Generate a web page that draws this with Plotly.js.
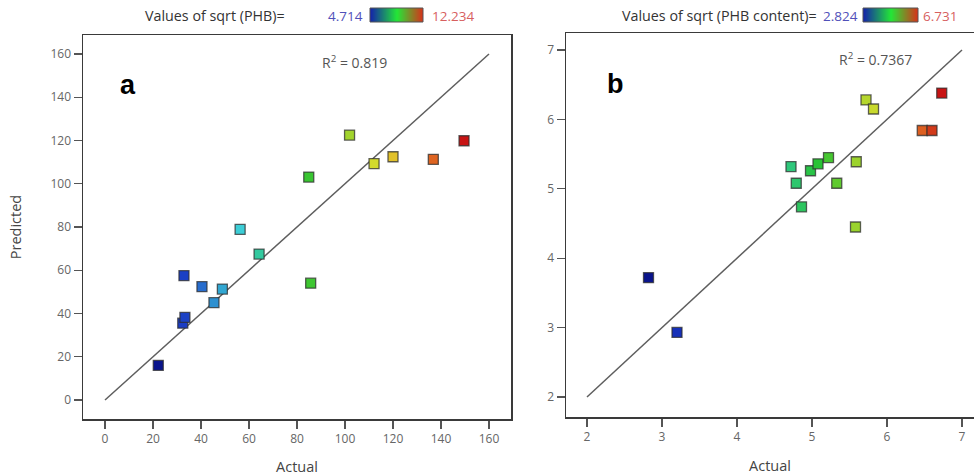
<!DOCTYPE html>
<html>
<head>
<meta charset="utf-8">
<script src="https://cdn.plot.ly/plotly-3.0.1.min.js"></script>
<style>html,body{margin:0;padding:0;background:#fff;}#chart{width:974px;height:476px;}</style>
</head>
<body>
<div id="chart"></div>
<script>
// ---- data ----
const actualA    = [22.2, 32.4, 33.3, 32.9, 40.4, 45.4, 48.9, 56.3, 64.2, 84.9, 85.7, 101.9, 112.1, 120.0, 136.8, 149.6];
const predictedA = [16.0, 35.5, 38.2, 57.5, 52.4, 45.0, 51.3, 78.9, 67.5, 103.1, 54.0, 122.5, 109.3, 112.5, 111.3, 119.9];
const actualB    = [2.82, 3.20, 4.72, 4.79, 4.86, 4.98, 5.08, 5.22, 5.33, 5.59, 5.58, 5.72, 5.82, 6.47, 6.60, 6.73];
const predictedB = [3.72, 2.93, 5.32, 5.08, 4.74, 5.26, 5.36, 5.45, 5.08, 5.39, 4.45, 6.28, 6.15, 5.84, 5.84, 6.38];
const diagA = [0, 160];
const diagB = [2, 7];
const ticksA = [0, 20, 40, 60, 80, 100, 120, 140, 160];
const ticksB = [2, 3, 4, 5, 6, 7];
const colorRangeA = [4.714, 12.234];   // sqrt(PHB)
const colorRangeB = [2.824, 6.731];    // sqrt(PHB content)
const r2A = "0.819";
const r2B = "0.7367";
const legendStops = [0, 1];

// ---- styling ----
const FONT = "Open Sans, Noto Sans, sans-serif";
const pointScale = [
  [0, 'rgb(10,20,140)'], [0.12, 'rgb(25,55,195)'], [0.22, 'rgb(40,110,205)'],
  [0.3, 'rgb(50,165,210)'], [0.37, 'rgb(60,205,215)'], [0.45, 'rgb(50,200,150)'],
  [0.58, 'rgb(40,195,50)'], [0.7, 'rgb(150,210,45)'], [0.8, 'rgb(225,220,45)'],
  [0.92, 'rgb(225,110,35)'], [1, 'rgb(200,20,20)']
];
const legendScale = [[0, 'rgb(20,35,170)'], [0.5, 'rgb(35,230,55)'], [1, 'rgb(220,45,25)']];

function markerFor(vals, range) {
  return {
    symbol: 'square', size: 10,
    color: vals, cmin: range[0], cmax: range[1], colorscale: pointScale, showscale: false,
    line: {color: 'rgba(45,45,45,0.75)', width: 1.3}
  };
}

const traces = [
  {x: diagA, y: diagA, mode: 'lines', line: {color: '#5e5e5e', width: 1.5}, xaxis: 'x', yaxis: 'y', hoverinfo: 'skip'},
  {x: actualA, y: predictedA, mode: 'markers', xaxis: 'x', yaxis: 'y',
   marker: markerFor(actualA.map(Math.sqrt), colorRangeA)},
  {x: diagB, y: diagB, mode: 'lines', line: {color: '#5e5e5e', width: 1.5}, xaxis: 'x2', yaxis: 'y2', hoverinfo: 'skip'},
  {x: actualB, y: predictedB, mode: 'markers', xaxis: 'x2', yaxis: 'y2',
   marker: markerFor(actualB, colorRangeB)},
  {type: 'heatmap', z: [legendStops, legendStops], x: legendStops, y: [0, 1], zsmooth: 'best',
   colorscale: legendScale, showscale: false, xaxis: 'x3', yaxis: 'y3', hoverinfo: 'skip'},
  {type: 'heatmap', z: [legendStops, legendStops], x: legendStops, y: [0, 1], zsmooth: 'best',
   colorscale: legendScale, showscale: false, xaxis: 'x4', yaxis: 'y4', hoverinfo: 'skip'}
];

const W = 974, H = 476;
const px = v => v / W, py = v => (H - v) / H;

const tickfont = {family: FONT, size: 12, color: '#666'};
function axisBase(extra) {
  return Object.assign({
    showgrid: false, zeroline: false, showline: true, linecolor: '#3a3a3a', linewidth: 1.5,
    ticks: 'outside', ticklen: 8, tickwidth: 1.2, tickcolor: '#555', tickfont: tickfont,
    tickmode: 'array'
  }, extra);
}
const titleFont = {family: FONT, size: 14.5, color: '#444'};

const layout = {
  width: W, height: H,
  margin: {l: 0, r: 0, t: 0, b: 0},
  paper_bgcolor: '#fff', plot_bgcolor: '#fff',
  showlegend: false,
  font: {family: FONT},
  xaxis: axisBase({domain: [px(83), px(511)], range: [-9.17, 169.17], tickvals: ticksA, anchor: 'y', mirror: true,
    title: {text: 'Actual', font: titleFont, standoff: 17}}),
  yaxis: axisBase({domain: [py(419), py(35)], range: [-8.8, 168.8], tickvals: ticksA, anchor: 'x', mirror: true,
    title: {text: 'Predicted', font: titleFont, standoff: 25}}),
  xaxis2: axisBase({domain: [px(566), 1], range: [1.72, 7.16], tickvals: ticksB, anchor: 'y2', mirror: true,
    title: {text: 'Actual', font: titleFont, standoff: 17}}),
  yaxis2: axisBase({domain: [py(417), py(33)], range: [1.712, 7.245], tickvals: ticksB, anchor: 'x2', mirror: false}),
  xaxis3: {domain: [px(370), px(423)], range: [0, 1], visible: false, anchor: 'y3', fixedrange: true},
  yaxis3: {domain: [py(22), py(8)], range: [0, 1], visible: false, anchor: 'x3', fixedrange: true},
  xaxis4: {domain: [px(863), px(918)], range: [0, 1], visible: false, anchor: 'y4', fixedrange: true},
  yaxis4: {domain: [py(22), py(8)], range: [0, 1], visible: false, anchor: 'x4', fixedrange: true},
  shapes: [
    {type: 'rect', xref: 'paper', yref: 'paper', x0: px(370), x1: px(423), y0: py(22), y1: py(8), line: {color: '#555', width: 1}},
    {type: 'rect', xref: 'paper', yref: 'paper', x0: px(863), x1: px(918), y0: py(22), y1: py(8), line: {color: '#555', width: 1}}
  ],
  annotations: [
    {xref: 'paper', yref: 'paper', x: px(287), y: py(16), xanchor: 'right', yanchor: 'middle', showarrow: false,
     text: 'Values of sqrt (PHB)=', font: {family: FONT, size: 14.3, color: '#333'}},
    {xref: 'paper', yref: 'paper', x: px(326), y: py(16), xanchor: 'left', yanchor: 'middle', showarrow: false,
     text: String(colorRangeA[0]), font: {family: FONT, size: 13.5, color: 'rgb(80,80,185)'}},
    {xref: 'paper', yref: 'paper', x: px(430), y: py(16), xanchor: 'left', yanchor: 'middle', showarrow: false,
     text: String(colorRangeA[1]), font: {family: FONT, size: 13.5, color: 'rgb(215,95,95)'}},
    {xref: 'paper', yref: 'paper', x: px(819), y: py(16), xanchor: 'right', yanchor: 'middle', showarrow: false,
     text: 'Values of sqrt (PHB content)=', font: {family: FONT, size: 14.3, color: '#333'}},
    {xref: 'paper', yref: 'paper', x: px(821), y: py(16), xanchor: 'left', yanchor: 'middle', showarrow: false,
     text: String(colorRangeB[0]), font: {family: FONT, size: 13.5, color: 'rgb(80,80,185)'}},
    {xref: 'paper', yref: 'paper', x: px(921), y: py(16), xanchor: 'left', yanchor: 'middle', showarrow: false,
     text: String(colorRangeB[1]), font: {family: FONT, size: 13.5, color: 'rgb(215,95,95)'}},
    {xref: 'x', yref: 'y', x: 104, y: 156.3, xanchor: 'center', yanchor: 'middle', showarrow: false,
     text: 'R<sup>2</sup> = ' + r2A, font: {family: FONT, size: 14, color: '#555'}},
    {xref: 'x2', yref: 'y2', x: 5.85, y: 6.866, xanchor: 'center', yanchor: 'middle', showarrow: false,
     text: 'R<sup>2</sup> = ' + r2B, font: {family: FONT, size: 14, color: '#555'}},
    {xref: 'paper', yref: 'paper', x: px(128), y: py(85), xanchor: 'center', yanchor: 'middle', showarrow: false,
     text: '<b>a</b>', font: {family: 'Liberation Sans, Arial, sans-serif', size: 27, color: '#000'}},
    {xref: 'paper', yref: 'paper', x: px(615), y: py(84), xanchor: 'center', yanchor: 'middle', showarrow: false,
     text: '<b>b</b>', font: {family: 'Liberation Sans, Arial, sans-serif', size: 27, color: '#000'}}
  ]
};

Plotly.newPlot('chart', traces, layout, {displayModeBar: false, staticPlot: true});
</script>
</body>
</html>
